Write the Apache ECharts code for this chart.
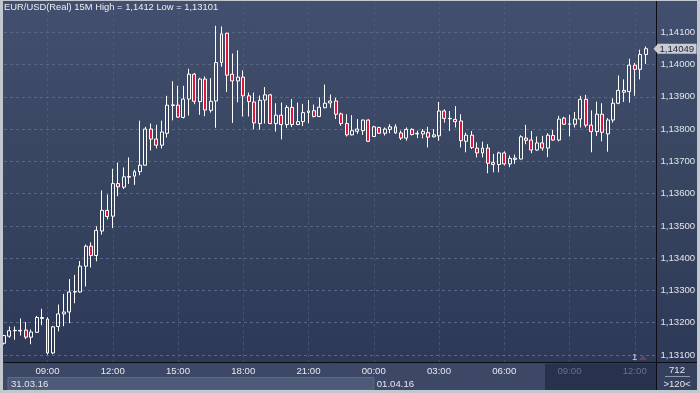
<!DOCTYPE html>
<html><head><meta charset="utf-8">
<script src="https://cdn.jsdelivr.net/npm/echarts@6/dist/echarts.min.js"></script>
<style>
html,body{margin:0;padding:0;background:#c3c7cf}
#c{width:700px;height:393px;background:linear-gradient(180deg,#424f6e 0%,#37445f 50%,#2b3756 100%)}
</style>
</head><body><div id="c"></div>
<script>
// ---- data ----
const symbolName = 'EUR/USD(Real) 15M';
const dayLabels = ['31.03.16', '01.04.16'];
const dayKeys = ['31.03', '01.04'];
const tickLabels = ['00:00','03:00','06:00','09:00','12:00','15:00','18:00','21:00'];
const barsShown = '712';
const zoomText = '>120<';
const categories = [];
for (let i = 0; i < 121; i++) {
  const m = 7 * 60 + i * 15, d = Math.floor(m / 1440), mm = m % 1440;
  categories.push(dayKeys[d] + ' ' + String(Math.floor(mm / 60)).padStart(2, '0') + ':' + String(mm % 60).padStart(2, '0'));
}
const opens = [1.13136,1.13158,1.13175,1.13174,1.13177,1.13155,1.13170,1.13213,1.13211,1.13106,
1.13188,1.13227,1.13233,1.13295,1.13295,1.13375,1.13437,1.13408,1.13484,1.13548,
1.13530,1.13631,1.13620,1.13651,1.13654,1.13668,1.13688,1.13800,1.13769,1.13750,
1.13787,1.13873,1.13874,1.13836,1.13893,1.13970,1.13885,1.13955,1.13858,1.13887,
1.14006,1.14097,1.13970,1.13949,1.13961,1.13903,1.13884,1.13817,1.13890,1.13906,
1.13817,1.13843,1.13814,1.13867,1.13814,1.13823,1.13851,1.13857,1.13839,1.13866,
1.13881,1.13887,1.13847,1.13817,1.13782,1.13793,1.13795,1.13828,1.13777,1.13805,
1.13787,1.13799,1.13807,1.13788,1.13772,1.13799,1.13785,1.13785,1.13789,1.13776,
1.13779,1.13856,1.13833,1.13830,1.13825,1.13762,1.13781,1.13741,1.13726,1.13741,
1.13696,1.13690,1.13726,1.13692,1.13706,1.13707,1.13772,1.13766,1.13735,1.13757,
1.13741,1.13780,1.13766,1.13834,1.13815,1.13815,1.13831,1.13892,1.13812,1.13792,
1.13846,1.13785,1.13828,1.13880,1.13920,1.13916,1.13998,1.13985,1.14031];
const closes = [1.13160,1.13175,1.13176,1.13176,1.13155,1.13171,1.13216,1.13216,1.13106,1.13187,
1.13227,1.13233,1.13295,1.13296,1.13375,1.13437,1.13408,1.13486,1.13548,1.13529,
1.13631,1.13621,1.13652,1.13653,1.13668,1.13688,1.13800,1.13769,1.13750,1.13791,
1.13874,1.13875,1.13837,1.13893,1.13970,1.13886,1.13955,1.13859,1.13886,1.14006,
1.14095,1.13967,1.13949,1.13961,1.13903,1.13885,1.13819,1.13889,1.13906,1.13817,
1.13843,1.13814,1.13867,1.13814,1.13823,1.13851,1.13856,1.13839,1.13868,1.13880,
1.13887,1.13846,1.13817,1.13782,1.13795,1.13800,1.13828,1.13762,1.13807,1.13787,
1.13800,1.13807,1.13788,1.13772,1.13799,1.13783,1.13787,1.13793,1.13775,1.13782,
1.13856,1.13833,1.13832,1.13823,1.13764,1.13781,1.13743,1.13726,1.13741,1.13694,
1.13690,1.13726,1.13692,1.13709,1.13710,1.13776,1.13765,1.13735,1.13757,1.13741,
1.13781,1.13766,1.13831,1.13815,1.13816,1.13831,1.13892,1.13812,1.13792,1.13846,
1.13790,1.13828,1.13880,1.13920,1.13914,1.13998,1.13985,1.14031,1.14049];
const lows = [1.13132,1.13153,1.13147,1.13160,1.13149,1.13133,1.13168,1.13192,1.13101,1.13102,
1.13173,1.13189,1.13198,1.13260,1.13293,1.13312,1.13371,1.13390,1.13473,1.13520,
1.13493,1.13592,1.13614,1.13630,1.13627,1.13657,1.13686,1.13734,1.13740,1.13740,
1.13774,1.13827,1.13835,1.13833,1.13842,1.13877,1.13844,1.13840,1.13851,1.13804,
1.13993,1.13915,1.13819,1.13883,1.13839,1.13839,1.13799,1.13798,1.13817,1.13815,
1.13792,1.13768,1.13804,1.13806,1.13812,1.13809,1.13818,1.13836,1.13837,1.13864,
1.13866,1.13831,1.13810,1.13777,1.13780,1.13785,1.13782,1.13760,1.13775,1.13785,
1.13780,1.13787,1.13785,1.13766,1.13764,1.13780,1.13772,1.13771,1.13743,1.13774,
1.13764,1.13820,1.13794,1.13805,1.13743,1.13728,1.13738,1.13712,1.13712,1.13663,
1.13666,1.13666,1.13687,1.13682,1.13692,1.13706,1.13753,1.13725,1.13733,1.13733,
1.13713,1.13764,1.13762,1.13813,1.13777,1.13805,1.13805,1.13805,1.13728,1.13779,
1.13762,1.13730,1.13820,1.13877,1.13884,1.13882,1.13903,1.13954,1.14002];
const highs = [1.13162,1.13188,1.13188,1.13213,1.13202,1.13179,1.13221,1.13243,1.13217,1.13190,
1.13256,1.13289,1.13335,1.13348,1.13391,1.13442,1.13449,1.13499,1.13610,1.13597,
1.13677,1.13696,1.13681,1.13712,1.13674,1.13826,1.13807,1.13817,1.13813,1.13826,
1.13903,1.13948,1.13934,1.13934,1.13987,1.13974,1.13959,1.13963,1.13958,1.14120,
1.14118,1.14098,1.14034,1.14044,1.13982,1.13913,1.13913,1.13904,1.13930,1.13909,
1.13880,1.13882,1.13874,1.13893,1.13882,1.13878,1.13890,1.13876,1.13898,1.13938,
1.13907,1.13897,1.13851,1.13846,1.13843,1.13831,1.13830,1.13830,1.13810,1.13807,
1.13805,1.13815,1.13815,1.13795,1.13805,1.13802,1.13795,1.13800,1.13807,1.13800,
1.13884,1.13861,1.13856,1.13871,1.13846,1.13789,1.13794,1.13759,1.13761,1.13753,
1.13723,1.13730,1.13731,1.13718,1.13721,1.13781,1.13813,1.13794,1.13777,1.13779,
1.13787,1.13797,1.13841,1.13838,1.13844,1.13853,1.13903,1.13906,1.13858,1.13885,
1.13880,1.13834,1.13895,1.13966,1.13954,1.14018,1.14005,1.14046,1.14056];

// ---- build ----
const ohlc = opens.map((o, i) => [o, closes[i], lows[i], highs[i]]);
const fmt = v => v.toFixed(5).replace('.', ',');
const fmtShort = v => String(parseFloat(v.toFixed(5))).replace('.', ',');
const hi = Math.max(...highs), lo = Math.min(...lows);
const lastClose = closes[closes.length - 1];
const timeOf = c => c.split(' ')[1];
const isTick = (i) => tickLabels.indexOf(timeOf(categories[i])) >= 0;
const FONT = 'Liberation Sans, Arial, sans-serif';
const FS = 9.6;
const DIM_FROM = 100;

const chart = echarts.init(document.getElementById('c'), null, {renderer: 'canvas'});
chart.setOption({
  animation: false,
  textStyle: {fontFamily: FONT},
  title: {
    text: symbolName + ' High = ' + fmtShort(hi) + ' Low = ' + fmtShort(lo),
    left: 4, top: 3, padding: 0,
    textStyle: {fontSize: 9.4, fontWeight: 'normal', color: '#eceef2', fontFamily: FONT}
  },
  grid: {left: 4, right: 43.5, top: -2.47, height: 389.64, containLabel: false},
  xAxis: [{
    type: 'category', data: categories, boundaryGap: false,
    axisLine: {show: false}, axisTick: {show: false}, axisLabel: {show: false},
    splitLine: {show: true, interval: (i) => isTick(i), lineStyle: {color: '#58648292', type: [3, 3], width: 1}}
  }, {
    type: 'category', data: categories, boundaryGap: false, gridIndex: 0, position: 'bottom', offset: -24.67, z: 10,
    axisLine: {show: true, lineStyle: {color: '#0b0d14', width: 1}},
    axisTick: {show: false}, splitLine: {show: false},
    axisLabel: {
      interval: (i) => isTick(i), margin: 4, fontSize: FS, fontFamily: FONT,
      formatter: v => timeOf(v),
      color: (v, i) => (categories.indexOf(v) >= DIM_FROM ? '#67738f' : '#e6e9f0')
    }
  }],
  yAxis: {
    type: 'value', position: 'right', min: 1.130, max: 1.142, interval: 0.001, scale: true,
    axisLine: {show: true, lineStyle: {color: '#0b0d14', width: 1}},
    axisTick: {show: false},
    axisLabel: {formatter: fmt, color: '#e2e5ec', fontSize: FS, fontFamily: FONT, margin: 4, showMinLabel: false, showMaxLabel: false},
    splitLine: {show: true, lineStyle: {color: '#5a6685', type: [3, 3], width: 1}}
  },
  series: [{
    type: 'candlestick', data: ohlc, barWidth: 3.4, xAxisIndex: 0,
    itemStyle: {color: 'rgba(0,0,0,0)', color0: '#e2163d', borderColor: '#ffffff', borderColor0: '#ffffff', borderWidth: 1}
  }]
});

// overlays computed through the library's axes
const px = i => chart.convertToPixel({xAxisIndex: 0}, i);
const dayStartX = px(categories.findIndex(c => c.indexOf(dayKeys[1]) === 0));
const dimX = (px(DIM_FROM - 1) + px(DIM_FROM)) / 2;
const tagY = chart.convertToPixel({yAxisIndex: 0}, lastClose);
const axisX = 656.5;
const txt = (x, y, t, extra) => ({type: 'text', z: 12, style: Object.assign({x: x, y: y, text: t, fill: '#e2e6ee', font: FS + 'px ' + FONT, textVerticalAlign: 'middle'}, extra || {})});
chart.setOption({
  graphic: [
    {type: 'rect', z: 5, shape: {x: 3, y: 363, width: axisX - 3.5, height: 27}, style: {fill: '#3c4866'}},
    {type: 'rect', z: 6, shape: {x: 8, y: 377.5, width: dayStartX - 8, height: 12.5}, style: {fill: '#4c5a78', stroke: '#5d6b88', lineWidth: 1}},
    {type: 'rect', z: 6, shape: {x: dimX, y: 363.5, width: axisX - 0.5 - dimX, height: 26.5}, style: {fill: '#27324f'}},
    {type: 'rect', z: 6, shape: {x: axisX + 0.5, y: 363, width: 697 - axisX - 0.5, height: 27}, style: {fill: '#34405d'}},
    {type: 'line', z: 7, shape: {x1: axisX, y1: 363, x2: axisX, y2: 390}, style: {stroke: '#0b0d14', lineWidth: 1}},
    {type: 'line', z: 7, shape: {x1: axisX, y1: 362.5, x2: 697, y2: 362.5}, style: {stroke: '#0b0d14', lineWidth: 1}},
    {type: 'line', z: 7, shape: {x1: 665, y1: 376.5, x2: 690, y2: 376.5}, style: {stroke: '#8f98ab', lineWidth: 1}},
    txt(11, 384, dayLabels[0]),
    txt(dayStartX + 3, 384, dayLabels[1]),
    txt(677, 370.5, barsShown, {textAlign: 'center'}),
    txt(677, 384, zoomText, {textAlign: 'center'}),
    txt(632, 357, '1', {fill: '#d0d4dc'}),
    {type: 'polygon', z: 12, shape: {points: [[639, 360], [643, 355], [647, 360]]}, style: {fill: '#5a4a62'}},
    {type: 'polygon', z: 12, shape: {points: [[axisX - 3, tagY], [axisX + 1.5, tagY - 5], [axisX + 1.5, tagY + 5]]}, style: {fill: '#c9ccd4'}},
    {type: 'rect', z: 12, shape: {x: axisX + 1, y: tagY - 5, width: 39, height: 10}, style: {fill: '#c9ccd4'}},
    txt(axisX + 3, tagY + 0.5, fmt(lastClose), {fill: '#1c2333'}),
    {type: 'rect', z: 20, shape: {x: 0, y: 0, width: 3, height: 393}, style: {fill: '#c3c7cf'}},
    {type: 'rect', z: 20, shape: {x: 0, y: 0, width: 700, height: 1}, style: {fill: '#c3c7cf'}},
    {type: 'rect', z: 20, shape: {x: 697, y: 0, width: 3, height: 393}, style: {fill: '#c3c7cf'}},
    {type: 'rect', z: 20, shape: {x: 0, y: 390, width: 700, height: 3}, style: {fill: '#c3c7cf'}}
  ]
});
</script>
</body></html>
